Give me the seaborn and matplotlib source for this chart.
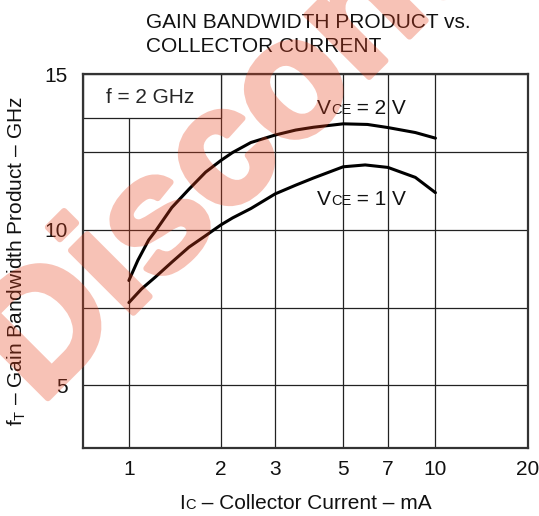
import matplotlib
matplotlib.use("Agg")
import matplotlib.pyplot as plt
import matplotlib.ticker as mticker
import matplotlib.patheffects as pe
from matplotlib.patches import Rectangle
from matplotlib.offsetbox import TextArea, HPacker, AnnotationBbox
import seaborn as sns
import pandas as pd

# ---- data ----
ic_2v = [1, 1.07, 1.16, 1.23, 1.38, 1.57, 1.78, 2, 2.18, 2.5, 3, 3.5, 4, 5, 6, 7, 8.6, 10]
ft_2v = [8.37, 9.02, 9.67, 10.0, 10.71, 11.3, 11.85, 12.23, 12.48, 12.8, 13.04, 13.2, 13.29, 13.4, 13.38, 13.28, 13.12, 12.94]
ic_1v = [1, 1.1, 1.22, 1.385, 1.57, 1.78, 2, 2.18, 2.5, 3, 3.5, 4, 5, 5.9, 7, 8.6, 10]
ft_1v = [7.66, 8.1, 8.48, 8.97, 9.44, 9.81, 10.16, 10.38, 10.68, 11.15, 11.43, 11.66, 12.02, 12.08, 12.0, 11.68, 11.19]
series_names = ["VCE = 2 V", "VCE = 1 V"]
x_ticks = [1, 2, 3, 5, 7, 10, 20]
x_ticklabels = ["1", "2", "3", "5", "7", "10", "20"]
y_grid = [5, 7.5, 10, 12.5, 15]
y_ticklabels = ["5", "", "10", "", "15"]
box_x_right = 2
box_y_bottom = 13.6

sns.set_style("white")
plt.rcParams["font.family"] = ["Liberation Sans", "DejaVu Sans"]
plt.rcParams["mathtext.fontset"] = "custom"
plt.rcParams["mathtext.rm"] = "Liberation Sans"

df = pd.concat([
    pd.DataFrame({"ic": ic_2v, "ft": ft_2v, "s": series_names[0]}),
    pd.DataFrame({"ic": ic_1v, "ft": ft_1v, "s": series_names[1]}),
])

W, H = 539, 516
fig = plt.figure(figsize=(W / 100, H / 100), dpi=100)
L, R, T, B = 83.3, 527.7, 74.0, 447.7
ax = fig.add_axes([L / W, 1 - B / H, (R - L) / W, (B - T) / H])

sns.lineplot(data=df, x="ic", y="ft", hue="s", palette=["black", "black"],
             linewidth=2.2, legend=False, ax=ax, zorder=5, sort=False)

ax.set_xscale("log")
ax.set_xlim(0.71, 20)
ax.set_ylim(3, 15)
ax.xaxis.set_major_locator(mticker.FixedLocator(x_ticks))
ax.xaxis.set_major_formatter(mticker.FixedFormatter(x_ticklabels))
ax.xaxis.set_minor_locator(mticker.NullLocator())
ax.yaxis.set_major_locator(mticker.FixedLocator(y_grid))
ax.yaxis.set_major_formatter(mticker.FixedFormatter(y_ticklabels))
ax.tick_params(axis="both", length=0, labelsize=15, colors="#111111")
ax.tick_params(axis="x", pad=9)
ax.tick_params(axis="y", pad=11)
ax.grid(True, which="major", color="#222222", linewidth=0.9, zorder=1)
ax.set_axisbelow(True)
for sp in ax.spines.values():
    sp.set_visible(True)
    sp.set_color("#333333")
    sp.set_linewidth(1.6)

# f = 2 GHz box (covers grid)
x0 = ax.get_xlim()[0]
box = Rectangle((x0, box_y_bottom), box_x_right - x0, 15 - box_y_bottom,
                facecolor="white", edgecolor="#222222", linewidth=0.9, zorder=2)
ax.add_patch(box)
ax.text(1.17, 14.25, "f = 2 GHz", fontsize=15, ha="center", va="center", zorder=6)


def sub_label(main, sub, rest, size=15):
    parts = [TextArea(main, textprops=dict(fontsize=size, color="#111111")),
             TextArea(sub, textprops=dict(fontsize=size * 0.7, color="#111111")),
             TextArea(rest, textprops=dict(fontsize=size, color="#111111"))]
    return HPacker(children=parts, align="baseline", pad=0, sep=0)


for txt, (xx, yy) in zip([" = 2 V", " = 1 V"], [(5.75, 13.88), (5.75, 10.98)]):
    ab = AnnotationBbox(sub_label("V", "CE", txt), (xx, yy), xycoords="data",
                        frameon=False, box_alignment=(0.5, 0.5), zorder=6)
    ax.add_artist(ab)

ab = AnnotationBbox(sub_label("I", "C", " – Collector Current – mA"),
                    (0.5, -(503 - B) / (B - T)), xycoords="axes fraction",
                    frameon=False, box_alignment=(0.5, 0.5), annotation_clip=False)
ax.add_artist(ab)

ax.set_xlabel("")
ax.set_ylabel(r"$\mathregular{f_T}$ – Gain Bandwidth Product – GHz", fontsize=15, color="#111111")
ax.yaxis.set_label_coords(-(L - 17) / (R - L), 0.5)
ax.yaxis.label.set_va("center")

fig.text(146 / W, 1 - 28 / H, "GAIN BANDWIDTH PRODUCT vs.", fontsize=15, ha="left", va="baseline", color="#111111")
fig.text(146 / W, 1 - 52 / H, "COLLECTOR CURRENT", fontsize=15, ha="left", va="baseline", color="#111111")


# watermark: opaque heavy text, made uniformly translucent afterwards
def translucent(img, dpi):
    out = img.copy()
    out[:, :, 3] = out[:, :, 3] * 0.32
    return out, 0, 0


wm_color = "#e8401c"
wm = fig.text(40 / W, 1 - 406 / H, "Discontinued", fontsize=120, fontweight="bold",
              family=["Liberation Sans", "DejaVu Sans"],
              color=wm_color, rotation=45, rotation_mode="anchor",
              ha="left", va="baseline", zorder=20,
              path_effects=[pe.Stroke(linewidth=4.5, foreground=wm_color), pe.Normal()])
wm.set_agg_filter(translucent)

fig.savefig("out.png", dpi=100)
